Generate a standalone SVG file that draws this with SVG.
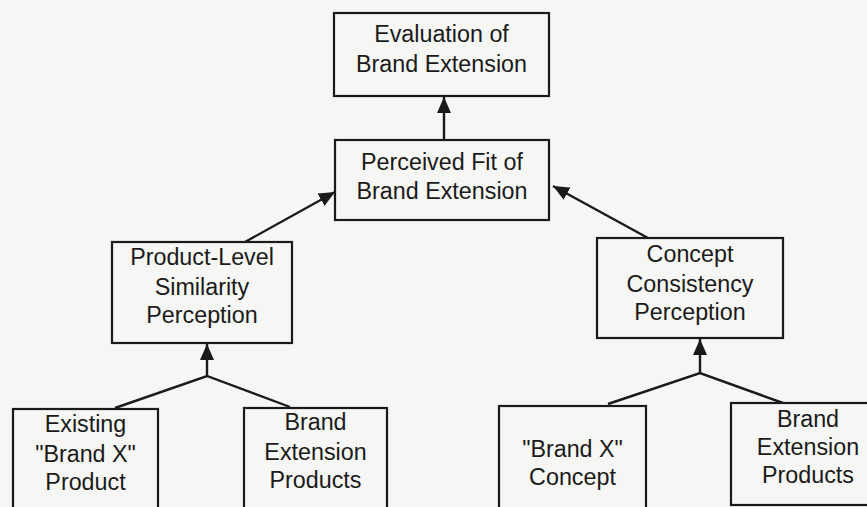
<svg xmlns="http://www.w3.org/2000/svg" width="867" height="507" viewBox="0 0 867 507">
<defs>
<style>
.box{fill:#f6f6f4;stroke:#1a1a1a;stroke-width:2.2}
.t{font-family:"Liberation Sans",Arial,sans-serif;font-size:23.3px;fill:#1a1a1a;text-anchor:middle}
.c{fill:none;stroke:#1a1a1a;stroke-width:2.4}
</style>
<marker id="a" markerWidth="16" markerHeight="14" refX="16" refY="7" orient="auto" markerUnits="userSpaceOnUse">
<path d="M0,0 L16,7 L0,14 z" fill="#1a1a1a"/>
</marker>
</defs>
<rect width="867" height="507" fill="#f6f6f4"/>
<g id="connectors">
<line class="c" x1="444" y1="140" x2="444" y2="97" marker-end="url(#a)"/>
<line class="c" x1="245" y1="242" x2="335" y2="192" marker-end="url(#a)"/>
<line class="c" x1="648" y1="238" x2="553" y2="186" marker-end="url(#a)"/>
<polyline class="c" points="115,408 207,376 290,407"/>
<line class="c" x1="207" y1="376" x2="207" y2="344" marker-end="url(#a)"/>
<polyline class="c" points="608,404 700,373 783,403"/>
<line class="c" x1="700" y1="373" x2="700" y2="339" marker-end="url(#a)"/>
</g>
<g id="evaluation">
<rect class="box" x="334" y="13" width="215" height="83"/>
<text class="t" x="441.5" y="42">Evaluation of</text>
<text class="t" x="441.5" y="72">Brand Extension</text>
</g>
<g id="perceived-fit">
<rect class="box" x="335" y="140" width="214" height="80"/>
<text class="t" x="442" y="170">Perceived Fit of</text>
<text class="t" x="442" y="199">Brand Extension</text>
</g>
<g id="product-level">
<rect class="box" x="112" y="242" width="180" height="101"/>
<text class="t" x="202" y="265">Product-Level</text>
<text class="t" x="202" y="295">Similarity</text>
<text class="t" x="202" y="323">Perception</text>
</g>
<g id="concept-consistency">
<rect class="box" x="597" y="238" width="186" height="100"/>
<text class="t" x="690" y="262">Concept</text>
<text class="t" x="690" y="292">Consistency</text>
<text class="t" x="690" y="320">Perception</text>
</g>
<g id="existing-brand-x">
<rect class="box" x="13" y="409" width="145" height="110"/>
<text class="t" x="85.5" y="432">Existing</text>
<text class="t" x="85.5" y="462">"Brand X"</text>
<text class="t" x="85.5" y="490">Product</text>
</g>
<g id="brand-extension-left">
<rect class="box" x="244" y="408" width="143" height="110"/>
<text class="t" x="315.5" y="430">Brand</text>
<text class="t" x="315.5" y="460">Extension</text>
<text class="t" x="315.5" y="488">Products</text>
</g>
<g id="brand-x-concept">
<rect class="box" x="499" y="406" width="147" height="112"/>
<text class="t" x="572.5" y="457">"Brand X"</text>
<text class="t" x="572.5" y="485">Concept</text>
</g>
<g id="brand-extension-right">
<rect class="box" x="731" y="403" width="145" height="102"/>
<text class="t" x="808" y="427">Brand</text>
<text class="t" x="808" y="455">Extension</text>
<text class="t" x="808" y="483">Products</text>
</g>
</svg>
